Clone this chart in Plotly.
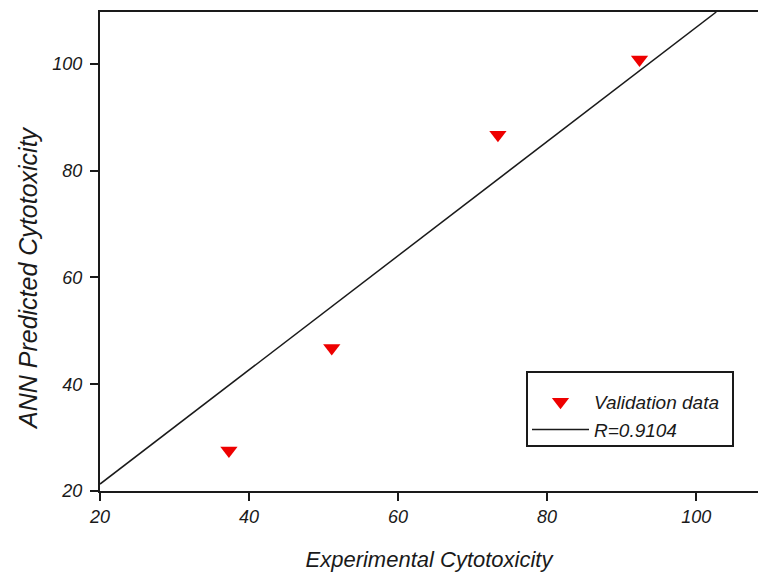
import plotly.graph_objects as go

exp_x = [37.3, 51.1, 73.4, 92.4]
ann_y = [27.6, 46.8, 86.7, 100.8]
fit_x = [20, 102.7]
fit_y = [21.3, 109.7]
x_ticks = [20, 40, 60, 80, 100]
y_ticks = [20, 40, 60, 80, 100]

FONT = "Liberation Sans, Arial, sans-serif"
INK = "#1a1a1a"

# screen-space layout (page margin removed below)
L, R, T, B = 100, 0, 12, 82
W, H = 758, 573
pw, ph = W - L - R, H - T - B

def px(xs):
    return (xs - L) / pw

def py(ys):
    return (H - B - ys) / ph

fig = go.Figure()
fig.add_trace(go.Scatter(
    x=exp_x, y=ann_y, mode="markers", name="<i>Validation data</i>",
    marker=dict(symbol="triangle-down", size=15, color="#ee0000", line=dict(width=0)),
))
fig.add_trace(go.Scatter(
    x=fit_x, y=fit_y, mode="lines", name="<i>R=0.9104</i>",
    line=dict(color=INK, width=1.5),
))

# legend frame
fig.add_shape(type="rect", xref="paper", yref="paper",
              x0=px(527), x1=px(733), y0=py(446), y1=py(372),
              line=dict(color=INK, width=2), fillcolor="white", layer="above")

# y axis title
fig.add_annotation(
    text="<i>ANN Predicted Cytotoxicity</i>", textangle=-90,
    xref="paper", yref="paper", x=px(28), y=py(278),
    xanchor="center", yanchor="middle", showarrow=False,
    font=dict(family=FONT, size=25, color=INK),
)

fig.update_layout(
    width=W, height=H,
    margin=dict(l=L, r=R, t=T, b=B),
    paper_bgcolor="white", plot_bgcolor="white",
    font=dict(family=FONT, color=INK),
    showlegend=True,
    legend=dict(
        x=px(527), y=py(383), xanchor="left", yanchor="top",
        bgcolor="rgba(0,0,0,0)", borderwidth=0,
        font=dict(family=FONT, size=19, color=INK),
        itemwidth=57,
    ),
)
fig.update_xaxes(
    range=[20, 108.3], tickvals=x_ticks, ticktext=[f"<i>{v}</i>" for v in x_ticks],
    showgrid=False, zeroline=False,
    showline=True, linecolor=INK, linewidth=2, mirror=True,
    ticks="outside", ticklen=8, tickwidth=1.5, tickcolor=INK,
    tickfont=dict(family=FONT, size=18, color=INK),
    title=dict(text="<i>Experimental Cytotoxicity</i>", font=dict(family=FONT, size=22, color=INK), standoff=26),
)
fig.update_yaxes(
    range=[20, 109.7], tickvals=y_ticks, ticktext=[f"<i>{v}</i>" for v in y_ticks],
    showgrid=False, zeroline=False,
    showline=True, linecolor=INK, linewidth=2, mirror=False,
    ticks="outside", ticklen=8, tickwidth=1.5, tickcolor=INK,
    tickfont=dict(family=FONT, size=18, color=INK),
    ticklabelstandoff=4,
)

fig.write_html(
    "out.html",
    config={"displayModeBar": False},
    post_script="document.body.style.margin='0';document.body.style.overflow='hidden';",
)
